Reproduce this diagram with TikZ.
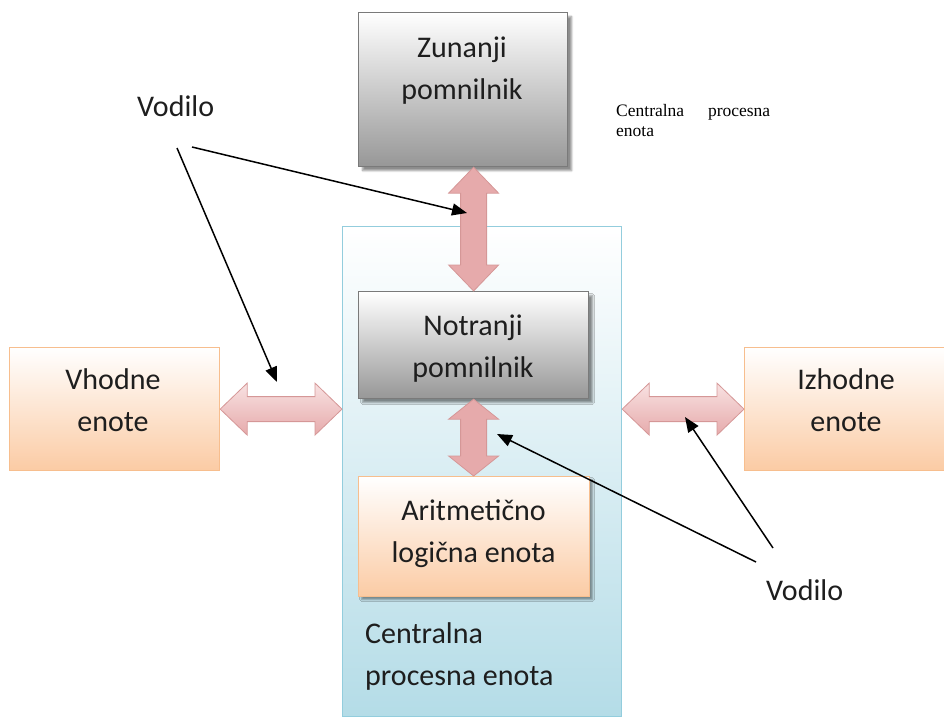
\documentclass[tikz,border=0pt]{standalone}
\usepackage{fontspec}
\setmainfont{Carlito}
\newfontfamily\notefont{Liberation Serif}
\usetikzlibrary{arrows.meta,calc,shadows.blur}

\definecolor{grayedge}{HTML}{7A7A7A}
\definecolor{graylow}{HTML}{979797}
\definecolor{orangeedge}{HTML}{F7BE8E}
\definecolor{orangelow}{HTML}{FBCBA4}
\definecolor{cpuedge}{HTML}{93CDDD}
\definecolor{cpulow}{HTML}{B4DCE7}
\definecolor{busedge}{HTML}{D59797}
\definecolor{busdark}{HTML}{E6AAAB}
\definecolor{buslight}{HTML}{F8E2E2}
\definecolor{inktext}{HTML}{1E1E1E}

\tikzset{
  box/.style={rectangle, inner sep=0pt, anchor=north west, line width=1.2pt},
  graybox/.style={box, draw=grayedge, top color=white, bottom color=graylow,
    blur shadow={shadow xshift=4pt, shadow yshift=-4pt, shadow blur steps=6, shadow opacity=45}},
  orangebox/.style={box, draw=orangeedge, top color=white, bottom color=orangelow},
  alubox/.style={orangebox,
    blur shadow={shadow xshift=3pt, shadow yshift=-3pt, shadow blur steps=4, shadow opacity=40}},
  cpubox/.style={box, draw=cpuedge, top color=white, bottom color=cpulow},
  label/.style={inner sep=0pt, text=inktext, align=center,
    font=\fontsize{30}{42}\selectfont},
  note/.style={inner sep=0pt, text=black, align=left,
    font=\notefont\fontsize{17.5}{20}\selectfont},
  busv/.style={draw=busedge, line width=0.8pt, line join=miter,
    left color=busdark, middle color=buslight, right color=busdark},
  bush/.style={draw=busedge, line width=0.8pt, line join=miter,
    top color=buslight, bottom color=busdark},
  pointer/.style={draw=black, line width=1.5pt,
    -{Triangle[length=15pt,width=12pt]}},
}

% vertical two-headed bus arrow: top tip, bottom tip, head length
\newcommand\vbus[3]{%
  \path[busv] let \p1=(#1), \p2=(#2) in
    (\x1,\y1) -- (\x1+25pt,\y1-#3) -- (\x1+13pt,\y1-#3)
    -- (\x1+13pt,\y2+#3) -- (\x1+25pt,\y2+#3) -- (\x2,\y2)
    -- (\x1-25pt,\y2+#3) -- (\x1-13pt,\y2+#3)
    -- (\x1-13pt,\y1-#3) -- (\x1-25pt,\y1-#3) -- cycle;}
% horizontal two-headed bus arrow: left tip, right tip, head length
\newcommand\hbus[3]{%
  \path[bush] let \p1=(#1), \p2=(#2) in
    (\x1,\y1) -- (\x1+#3,\y1+26pt) -- (\x1+#3,\y1+12.5pt)
    -- (\x2-#3,\y1+12.5pt) -- (\x2-#3,\y1+26pt) -- (\x2,\y2)
    -- (\x2-#3,\y1-26pt) -- (\x2-#3,\y1-12.5pt)
    -- (\x1+#3,\y1-12.5pt) -- (\x1+#3,\y1-26pt) -- cycle;}

\begin{document}
\begin{tikzpicture}[x=1pt, y=-1pt]
\useasboundingbox (0,0) rectangle (944,717);

% central processing unit frame
\node[cpubox, minimum width=279pt, minimum height=490pt] (cpu) at (342,226) {};

% memories and units
\node[graybox, minimum width=209pt, minimum height=154pt] (zun) at (358,12) {};
\node[graybox, minimum width=230pt, minimum height=107pt] (notr) at (358,291) {};
\node[alubox, minimum width=231pt, minimum height=120pt] (alu) at (358,476) {};
\node[orangebox, minimum width=210pt, minimum height=123pt] (vh) at (9,347) {};
\node[orangebox, minimum width=202pt, minimum height=123pt] (iz) at (744,347) {};

% captions
\node[label] (zuntxt) at (462,70.5) {Zunanji\\pomnilnik};
\node[label] (notrtxt) at (473,348.5) {Notranji\\pomnilnik};
\node[label] (alutxt) at (473.5,533.5) {Aritmetično\\logična enota};
\node[label] (vhtxt) at (113,400.5) {Vhodne\\enote};
\node[label] (iztxt) at (846,400.5) {Izhodne\\enote};
\node[label, align=left, anchor=west] (cputxt) at (365,656.5) {Centralna\\procesna enota};
\node[label, anchor=base west] (vodA) at (137,116) {Vodilo};
\node[label, anchor=base west] (vodB) at (766,600) {Vodilo};
\node[note, anchor=west] (cpunote) at (616,121)
  {\makebox[154pt][s]{Centralna procesna}\\enota};

% buses
\vbus{zun.south -| notr.north}{notr.north}{26pt}
\vbus{notr.south}{alu.north -| notr.south}{20pt}
\hbus{vh.east}{vh.east -| cpu.west}{27pt}
\hbus{iz.west -| cpu.east}{iz.west}{27pt}

% pointers from the bus labels
\coordinate (vodAa) at (177,148);
\coordinate (vodAb) at (192,147);
\coordinate (vodBa) at (773,548);
\coordinate (vodBb) at (756,562);
\coordinate (busIn) at (277,382);
\coordinate (busExt) at (467,213);
\coordinate (busAlu) at (497,434);
\coordinate (busOut) at (685,417);
\draw[pointer] (vodAa) -- (busIn);
\draw[pointer] (vodAb) -- (busExt);
\draw[pointer] (vodBb) -- (busAlu);
\draw[pointer] (vodBa) -- (busOut);
\end{tikzpicture}
\end{document}
